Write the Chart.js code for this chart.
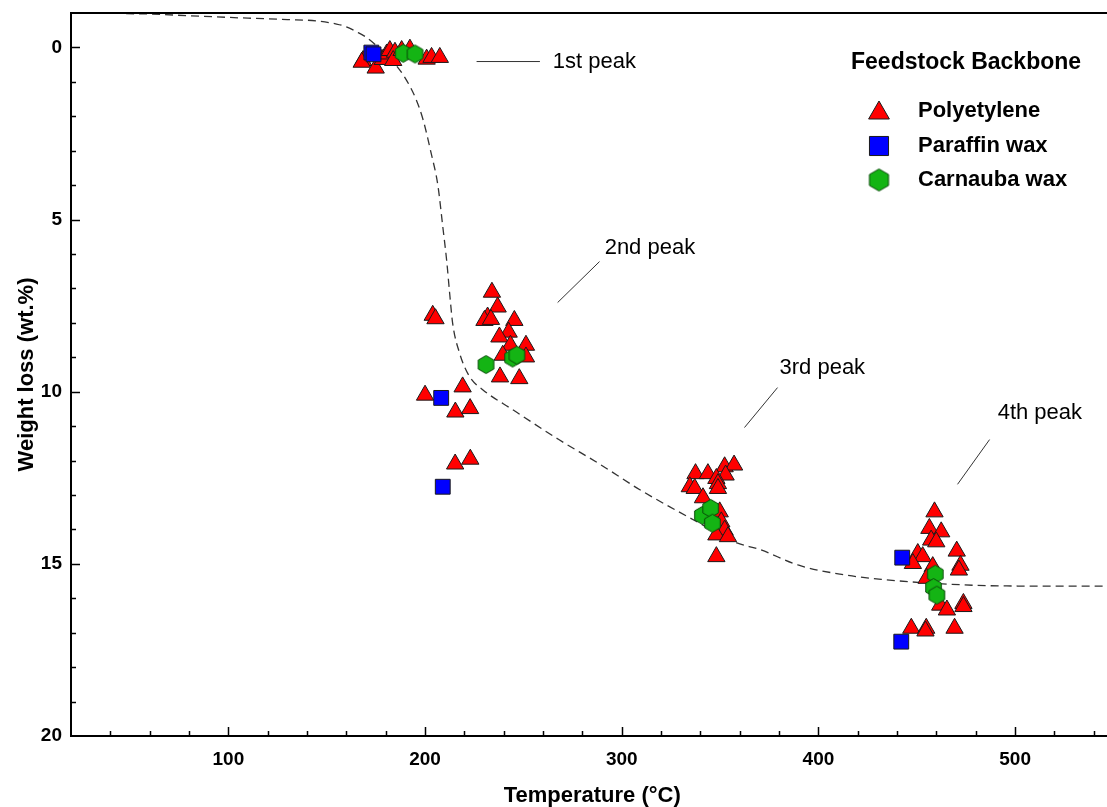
<!DOCTYPE html>
<html>
<head>
<meta charset="utf-8">
<script src="https://cdn.jsdelivr.net/npm/chart.js@4.4.0/dist/chart.umd.min.js"></script>
<style>
  html, body { margin: 0; padding: 0; background: #fff; overflow: hidden; }
</style>
</head>
<body>
<canvas id="tga" width="1125" height="807"></canvas>
<script>
// TGA weight loss vs temperature, peaks per feedstock backbone

// --- dashed TGA curve ---
const curveTemp = [48, 60, 80, 110, 130, 145, 155, 160, 165, 170, 175, 180, 185, 190, 195, 199, 203, 206.5, 209, 211, 212.6, 214, 217.5, 222.5, 229.3, 244.5, 268, 289, 309, 339, 358, 370, 390, 411, 432, 460, 492, 550];
const curveLoss = [-0.98, -0.97, -0.92, -0.85, -0.81, -0.77, -0.68, -0.6, -0.46, -0.3, -0.07, 0.2, 0.5, 0.9, 1.45, 2.1, 3.05, 4.0, 5.2, 6.2, 7.2, 8.0, 8.87, 9.55, 9.94, 10.52, 11.39, 12.11, 12.84, 13.8, 14.38, 14.58, 15.04, 15.3, 15.45, 15.57, 15.64, 15.65];

// --- Polyetylene (triangles) ---
const peTemp = [
  168.5, 167.8, 174.9, 178.5, 180.5, 182.1, 184.7, 183.8, 188.1, 192.3, 200.8, 203.3, 207.5,
  234.0, 236.9, 231.8, 230.2, 233.5, 203.9, 205.3, 245.4, 242.5, 237.8, 243.4, 251.3, 239.5, 251.3, 238.1, 247.9, 219.1, 200.0, 215.4, 222.9, 215.3, 223.0,
  337.5, 343.8, 352.3, 357.1, 352.8, 348.1, 348.9, 348.9, 334.6, 337.1, 341.3, 349.8, 350.6, 352.3, 348.1, 354.0, 348.1,
  459.0, 456.4, 462.4, 457.3, 459.9, 450.5, 453.0, 448.0, 470.3, 472.2, 471.4, 458.1, 455.0, 461.9, 465.3, 473.7, 473.7, 447.2, 454.8, 454.4, 469.2
];
const peLoss = [
  0.38, 0.43, 0.6, 0.35, 0.19, 0.09, 0.14, 0.38, 0.09, 0.05, 0.34, 0.29, 0.29,
  7.11, 7.54, 7.83, 7.93, 7.9, 7.78, 7.88, 7.93, 8.27, 8.41, 8.65, 8.65, 8.94, 8.99, 9.57, 9.62, 9.86, 10.1, 10.59, 10.49, 12.1, 11.96,
  12.38, 12.38, 12.18, 12.13, 12.42, 12.52, 12.67, 12.81, 12.76, 12.81, 13.08, 13.49, 13.78, 14.02, 14.16, 14.21, 14.79,
  13.49, 13.97, 14.07, 14.31, 14.36, 14.7, 14.79, 14.99, 14.63, 15.04, 15.18, 15.08, 15.42, 16.2, 16.34, 16.15, 16.24, 16.87, 16.87, 16.95, 16.87
];

// --- Paraffin wax (squares) ---
const pwTemp = [172.7, 173.8, 208.2, 209.0, 442.6, 442.1];
const pwLoss = [0.15, 0.2, 10.18, 12.76, 14.82, 17.26];

// --- Carnauba wax (hexagons) ---
const cwTemp = [188.9, 194.9, 231.0, 244.5, 246.7, 341.0, 345.2, 346.1, 459.4, 458.5, 460.2];
const cwLoss = [0.17, 0.19, 9.21, 9.02, 8.94, 13.59, 13.39, 13.82, 15.3, 15.69, 15.91];

const xTicks = [100, 200, 300, 400, 500];
const yTicks = [0, 5, 10, 15, 20];

const seriesNames = ["Polyetylene", "Paraffin wax", "Carnauba wax"];
const legendTitle = "Feedstock Backbone";

// peak labels (data coords)
const peakNotes = [
  { text: "1st peak", from: [226.2, 0.41], to: [258.4, 0.41], at: [264.9, 0.41] },
  { text: "2nd peak", from: [267.4, 7.41], to: [288.7, 6.22], at: [291.3, 5.82] },
  { text: "3rd peak", from: [362.4, 11.04], to: [379.2, 9.88], at: [380.2, 9.3] },
  { text: "4th peak", from: [470.7, 12.69], to: [487.0, 11.39], at: [491.1, 10.63] },
];

const FONT = "'Liberation Sans', Arial, sans-serif";
const RED = "#ff0000", BLUE = "#0000ff", GREEN = "#14b414", EDGE = "#1a1a1a";

const toXY = (xs, ys) => xs.map((v, i) => ({ x: v, y: ys[i] }));

function hexagon(R, fill, stroke) {
  const s = Math.ceil(2 * R + 3);
  const c = document.createElement("canvas");
  c.width = s;
  c.height = s;
  const g = c.getContext("2d");
  g.beginPath();
  for (let i = 0; i < 6; i++) {
    const a = (Math.PI / 3) * i - Math.PI / 2;
    const px = s / 2 + R * Math.cos(a), py = s / 2 + R * Math.sin(a);
    i ? g.lineTo(px, py) : g.moveTo(px, py);
  }
  g.closePath();
  g.fillStyle = fill;
  g.fill();
  g.lineWidth = 1;
  g.strokeStyle = stroke;
  g.stroke();
  return c;
}
const hexPoint = hexagon(9, GREEN, "#0a4a0a");
const hexLegend = hexagon(11, GREEN, "#0a4a0a");

const frameAndNotes = {
  id: "frameAndNotes",
  afterDraw(chart) {
    const { ctx, chartArea: a, scales: { x, y } } = chart;
    const line = (x1, y1, x2, y2) => {
      ctx.beginPath();
      ctx.moveTo(x1, y1);
      ctx.lineTo(x2, y2);
      ctx.stroke();
    };
    ctx.save();

    // frame: top, left, bottom
    ctx.strokeStyle = "#000";
    ctx.lineWidth = 2;
    ctx.beginPath();
    ctx.moveTo(a.right + 4, a.top);
    ctx.lineTo(a.left, a.top);
    ctx.lineTo(a.left, a.bottom);
    ctx.lineTo(a.right + 4, a.bottom);
    ctx.stroke();

    // inward ticks
    ctx.lineWidth = 1.5;
    for (let v = 40; v <= 540; v += 20) {
      const px = Math.round(x.getPixelForValue(v)) + 0.5;
      line(px, a.bottom, px, a.bottom - (v % 100 === 0 ? 9 : 5));
    }
    for (let v = 0; v <= 19; v++) {
      const py = Math.round(y.getPixelForValue(v)) + 0.5;
      line(a.left, py, a.left + (v % 5 === 0 ? 9 : 5), py);
    }

    // peak notes
    ctx.lineWidth = 1;
    ctx.strokeStyle = "#333";
    ctx.fillStyle = "#000";
    ctx.font = `22px ${FONT}`;
    ctx.textBaseline = "middle";
    ctx.textAlign = "left";
    peakNotes.forEach((n) => {
      line(x.getPixelForValue(n.from[0]), y.getPixelForValue(n.from[1]),
           x.getPixelForValue(n.to[0]), y.getPixelForValue(n.to[1]));
      ctx.fillText(n.text, x.getPixelForValue(n.at[0]), y.getPixelForValue(n.at[1]));
    });

    // legend
    ctx.font = `bold 23px ${FONT}`;
    ctx.fillText(legendTitle, 851, 63);
    ctx.font = `bold 22px ${FONT}`;
    const styles = [
      { pointStyle: "triangle", radius: 12, fill: RED },
      { pointStyle: "rect", radius: 13.5, fill: BLUE },
      { pointStyle: hexLegend, radius: 11, fill: GREEN },
    ];
    const rows = [111, 146, 180];
    styles.forEach((s, i) => {
      ctx.fillStyle = s.fill;
      ctx.strokeStyle = EDGE;
      ctx.lineWidth = 1;
      Chart.helpers.drawPoint(ctx, { pointStyle: s.pointStyle, radius: s.radius, borderWidth: 1, rotation: 0 }, 879, rows[i] + (i === 0 ? 2 : 0));
      ctx.fillStyle = "#000";
      ctx.fillText(seriesNames[i], 918, rows[i]);
    });
    ctx.restore();
  },
};

const tickFont = { family: FONT, size: 19, weight: "bold" };
const titleFont = { family: FONT, size: 22, weight: "bold", lineHeight: 1 };

new Chart(document.getElementById("tga"), {
  type: "scatter",
  data: {
    datasets: [
      {
        label: seriesNames[2],
        data: toXY(cwTemp, cwLoss),
        pointStyle: hexPoint,
        pointRadius: 9,
        backgroundColor: GREEN,
        borderColor: EDGE,
        order: 0,
      },
      {
        label: seriesNames[1],
        data: toXY(pwTemp, pwLoss),
        pointStyle: "rect",
        pointRadius: 10.5,
        pointBorderWidth: 1,
        backgroundColor: BLUE,
        borderColor: EDGE,
        order: 1,
      },
      {
        label: seriesNames[0],
        data: toXY(peTemp, peLoss),
        pointStyle: "triangle",
        pointRadius: 10,
        pointBorderWidth: 1,
        backgroundColor: RED,
        borderColor: EDGE,
        order: 2,
      },
      {
        label: "TGA",
        data: toXY(curveTemp, curveLoss),
        showLine: true,
        pointRadius: 0,
        borderColor: "#333",
        borderWidth: 1.3,
        borderDash: [8, 5],
        cubicInterpolationMode: "monotone",
        fill: false,
        order: 3,
      },
    ],
  },
  options: {
    responsive: false,
    animation: false,
    layout: { padding: { top: 13, right: 1, left: 0, bottom: 0 } },
    plugins: { legend: { display: false }, tooltip: { enabled: false } },
    scales: {
      x: {
        type: "linear",
        min: 20,
        max: 550,
        grid: { display: false, drawTicks: false },
        border: { display: false },
        afterFit: (s) => { s.height = 71; s.paddingLeft = 0; s.paddingRight = 0; },
        afterBuildTicks: (s) => { s.ticks = xTicks.map((v) => ({ value: v })); },
        ticks: { font: tickFont, color: "#000", padding: 12, maxRotation: 0, autoSkip: false },
        title: { display: true, text: "Temperature (°C)", font: titleFont, color: "#000", padding: { top: 0, bottom: 0 } },
      },
      y: {
        type: "linear",
        reverse: true,
        min: -1,
        max: 20,
        grid: { display: false, drawTicks: false },
        border: { display: false },
        afterFit: (s) => { s.width = 71; s.paddingTop = 0; s.paddingBottom = 0; },
        afterBuildTicks: (s) => { s.ticks = yTicks.map((v) => ({ value: v })); },
        ticks: { font: tickFont, color: "#000", padding: 9, autoSkip: false },
        title: { display: true, text: "Weight loss (wt.%)", font: titleFont, color: "#000", padding: { top: 16, bottom: 0 } },
      },
    },
  },
  plugins: [frameAndNotes],
});
</script>
</body>
</html>
